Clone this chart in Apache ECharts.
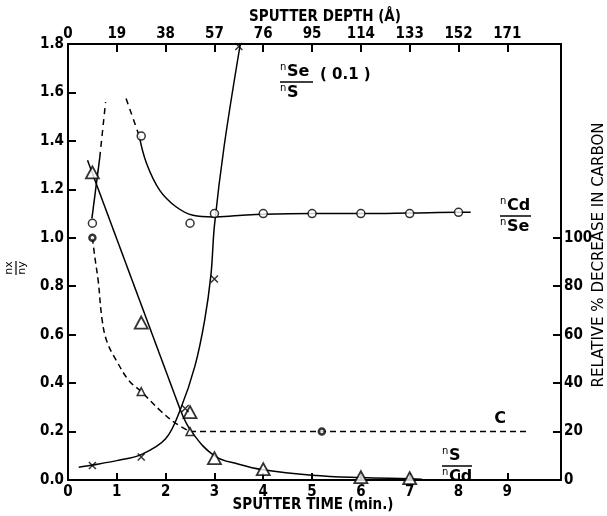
<!DOCTYPE html>
<html><head><meta charset="utf-8">
<script src="https://cdn.jsdelivr.net/npm/echarts/dist/echarts.min.js"></script>
<style>html,body{margin:0;padding:0;background:#fff}#c{width:607px;height:516px}</style>
</head><body><div id="c"></div>
<script>
// ---- tick labels ----
const timeTicks = [0, 1, 2, 3, 4, 5, 6, 7, 8, 9];
const depthTicks = [0, 19, 38, 57, 76, 95, 114, 133, 152, 171];
const carbonTicks = [0, 20, 40, 60, 80, 100];
const depthPerMin = 19;
const timeMax = 10.1;

// ---- nCd/nSe (open circles) ----
const cdSeTime = [0.5, 1.5, 2.5, 3, 4, 5, 6, 7, 8];
const cdSeVal  = [1.06, 1.42, 1.06, 1.10, 1.10, 1.10, 1.10, 1.10, 1.105];
const cdSeRiseX = [0.49, 0.65];       const cdSeRiseY = [1.08, 1.33];
const cdSeRiseDashX = [0.65, 0.77];   const cdSeRiseDashY = [1.33, 1.56];
const cdSeFallDashX = [1.19, 1.46];   const cdSeFallDashY = [1.575, 1.42];
const cdSeCurveX = [1.46, 1.61, 1.88, 2.22, 2.56, 2.97, 3.5, 4, 5, 6, 7, 8, 8.25];
const cdSeCurveY = [1.42, 1.307, 1.196, 1.127, 1.093, 1.086, 1.092, 1.097, 1.10, 1.10, 1.102, 1.105, 1.105];

// ---- nS/nCd (open triangles) ----
const sCdTime = [0.5, 1.5, 2.5, 3, 4, 6, 7];
const sCdVal  = [1.27, 0.65, 0.28, 0.09, 0.045, 0.012, 0.008];
const sCdLineX = [0.4, 2.3];          const sCdLineY = [1.32, 0.29];
const sCdCurveX = [2.3, 2.53, 3.0, 3.5, 4.0, 5.0, 6.0, 7.0, 7.25];
const sCdCurveY = [0.29, 0.2, 0.1, 0.065, 0.042, 0.02, 0.01, 0.005, 0.003];

// ---- nSe/nS (0.1) (x marks) ----
const seSTime = [0.5, 1.5, 2.4, 3.0, 3.5];
const seSVal  = [0.06, 0.095, 0.295, 0.83, 1.79];
const seSCurveX = [0.22, 0.5, 1.0, 1.5, 2.0, 2.3, 2.6, 2.8, 2.93, 3.0, 3.2, 3.53];
const seSCurveY = [0.053, 0.062, 0.08, 0.105, 0.17, 0.29, 0.47, 0.66, 0.85, 1.05, 1.38, 1.8];

// ---- Carbon, relative % decrease (right axis) ----
const cTime = [0.5, 1.5, 2.5, 5.2];
const cVal  = [100, 36.5, 20, 20];
const cCurveX = [0.5, 0.55, 0.62, 0.7, 0.8, 1.0, 1.25, 1.5, 1.9, 2.2, 2.5];
const cCurveY = [100, 92, 82, 66, 57, 49, 41, 36.5, 28.5, 23.5, 20];
const cFlatX = [2.5, 9.4];            const cFlatY = [20, 20];

const FONT = "'DejaVu Sans Condensed','DejaVu Sans',sans-serif";
const pairs = (xs, ys) => xs.map((x, i) => [x, ys[i]]);

function curve(xs, ys, extra) {
  return Object.assign({
    type: 'line', data: pairs(xs, ys), symbol: 'none', showSymbol: false,
    smooth: false, lineStyle: { color: '#000', width: 1.5 }, z: 2, silent: true
  }, extra || {});
}
function marks(xs, ys, extra) {
  return Object.assign({
    type: 'scatter', data: pairs(xs, ys), z: 5, silent: true,
    itemStyle: { color: '#fff', borderColor: '#000', borderWidth: 1.5 }
  }, extra || {});
}

const axisCommon = {
  axisLine: { show: true, onZero: false, lineStyle: { color: '#000', width: 2 } },
  splitLine: { show: false },
};
const labelCommon = { color: '#000', fontFamily: FONT, fontWeight: 'bold', fontSize: 15 };

function ratioLabel(x, y, num, den, w) {
  const small = { font: "10px 'DejaVu Sans'", fill: '#000', align: 'left', verticalAlign: 'top' };
  const big = { font: "bold 16px 'DejaVu Sans'", fill: '#000', align: 'left', verticalAlign: 'top' };
  return {
    type: 'group', x: x, y: y, children: [
      { type: 'text', x: 0, y: 0, style: Object.assign({ text: 'n' }, small) },
      { type: 'text', x: 7, y: 2, style: Object.assign({ text: num }, big) },
      { type: 'line', shape: { x1: 0, y1: 20, x2: w, y2: 20 }, style: { stroke: '#000', lineWidth: 1.5 } },
      { type: 'text', x: 0, y: 21, style: Object.assign({ text: 'n' }, small) },
      { type: 'text', x: 7, y: 23, style: Object.assign({ text: den }, big) }
    ]
  };
}

const chart = echarts.init(document.getElementById('c'), null, { renderer: 'canvas' });
chart.setOption({
  animation: false,
  backgroundColor: '#fff',
  grid: { left: 68, right: 46, top: 44, bottom: 36, containLabel: false },
  xAxis: [
    Object.assign({
      type: 'value', position: 'bottom', min: 0, max: timeMax,
      axisTick: { inside: true, length: 7, lineStyle: { color: '#000', width: 2 }, customValues: timeTicks },
      axisLabel: Object.assign({ customValues: timeTicks, margin: 5 }, labelCommon)
    }, axisCommon),
    Object.assign({
      type: 'value', position: 'top', min: 0, max: timeMax * depthPerMin,
      axisTick: { inside: true, length: 8, lineStyle: { color: '#000', width: 2 }, customValues: depthTicks },
      axisLabel: Object.assign({ customValues: depthTicks, margin: 2 }, labelCommon)
    }, axisCommon)
  ],
  yAxis: [
    Object.assign({
      type: 'value', position: 'left', min: 0, max: 1.8, interval: 0.2,
      axisTick: { inside: true, length: 8, lineStyle: { color: '#000', width: 2 } },
      axisLabel: Object.assign({ margin: 4, formatter: v => v.toFixed(1) }, labelCommon)
    }, axisCommon),
    Object.assign({
      type: 'value', position: 'right', min: 0, max: 180,
      axisTick: { inside: true, length: 8, lineStyle: { color: '#000', width: 2 }, customValues: carbonTicks },
      axisLabel: Object.assign({ customValues: carbonTicks, margin: 3 }, labelCommon)
    }, axisCommon)
  ],
  series: [
    // nCd/nSe
    curve(cdSeRiseX, cdSeRiseY),
    curve(cdSeRiseDashX, cdSeRiseDashY, { lineStyle: { color: '#000', width: 1.5, type: [6, 5] } }),
    curve(cdSeFallDashX, cdSeFallDashY, { lineStyle: { color: '#000', width: 1.5, type: [6, 5] } }),
    curve(cdSeCurveX, cdSeCurveY, { smooth: 0.4 }),
    marks(cdSeTime, cdSeVal, { symbol: 'circle', symbolSize: 8 }),
    // nS/nCd
    curve(sCdLineX, sCdLineY),
    curve(sCdCurveX, sCdCurveY, { smooth: 0.4 }),
    marks(sCdTime, sCdVal, { symbol: 'triangle', symbolSize: [13, 12], itemStyle: { color: '#fff', borderColor: '#000', borderWidth: 1.8 } }),
    // nSe/nS
    curve(seSCurveX, seSCurveY, { smooth: 0.35 }),
    marks(seSTime, seSVal, { symbol: 'path://M0,0L10,10M10,0L0,10', symbolSize: 7,
      itemStyle: { color: 'none', borderColor: '#000', borderWidth: 1.5 } }),
    // Carbon
    curve(cCurveX, cCurveY, { yAxisIndex: 1, smooth: 0.4, lineStyle: { color: '#000', width: 1.5, type: [6, 4] } }),
    curve(cFlatX, cFlatY, { yAxisIndex: 1, lineStyle: { color: '#000', width: 1.5, type: [6, 4] } }),
    marks(cTime.slice(0, 1).concat(cTime.slice(3)), cVal.slice(0, 1).concat(cVal.slice(3)),
      { yAxisIndex: 1, symbol: 'circle', symbolSize: 6, itemStyle: { color: '#fff', borderColor: '#000', borderWidth: 2.5 } }),
    marks(cTime.slice(1, 3), cVal.slice(1, 3),
      { yAxisIndex: 1, symbol: 'triangle', symbolSize: 8, itemStyle: { color: '#fff', borderColor: '#000', borderWidth: 1.5 } })
  ],
  graphic: [
    { type: 'text', x: 313, y: 505, style: { text: 'SPUTTER TIME (min.)', font: "bold 15px " + FONT, fill: '#000', align: 'center', verticalAlign: 'middle' } },
    { type: 'text', x: 325, y: 17, style: { text: 'SPUTTER DEPTH (Å)', font: "bold 15px " + FONT, fill: '#000', align: 'center', verticalAlign: 'middle' } },
    { type: 'text', x: 599, y: 255, rotation: Math.PI / 2, style: { text: 'RELATIVE % DECREASE IN CARBON', font: "15px 'DejaVu Sans'", fill: '#000', align: 'center', verticalAlign: 'middle' } },
    { type: 'group', x: 16, y: 268, rotation: Math.PI / 2, children: [
      { type: 'text', x: 0, y: -1, style: { text: 'nx', font: "11px 'DejaVu Sans'", fill: '#000', align: 'center', verticalAlign: 'bottom' } },
      { type: 'line', shape: { x1: -7, y1: 0, x2: 7, y2: 0 }, style: { stroke: '#000', lineWidth: 1.2 } },
      { type: 'text', x: 0, y: 1, style: { text: 'ny', font: "11px 'DejaVu Sans'", fill: '#000', align: 'center', verticalAlign: 'top' } }
    ] },
    ratioLabel(280, 62, 'Se', 'S', 33),
    { type: 'text', x: 320, y: 68, style: { text: '( 0.1 )', font: "bold 15px 'DejaVu Sans'", fill: '#000', align: 'left', verticalAlign: 'top' } },
    ratioLabel(500, 196, 'Cd', 'Se', 31),
    ratioLabel(442, 446, 'S', 'Cd', 30),
    { type: 'text', x: 500, y: 419, style: { text: 'C', font: "bold 16px 'DejaVu Sans'", fill: '#000', align: 'center', verticalAlign: 'middle' } }
  ]
});
</script></body></html>
